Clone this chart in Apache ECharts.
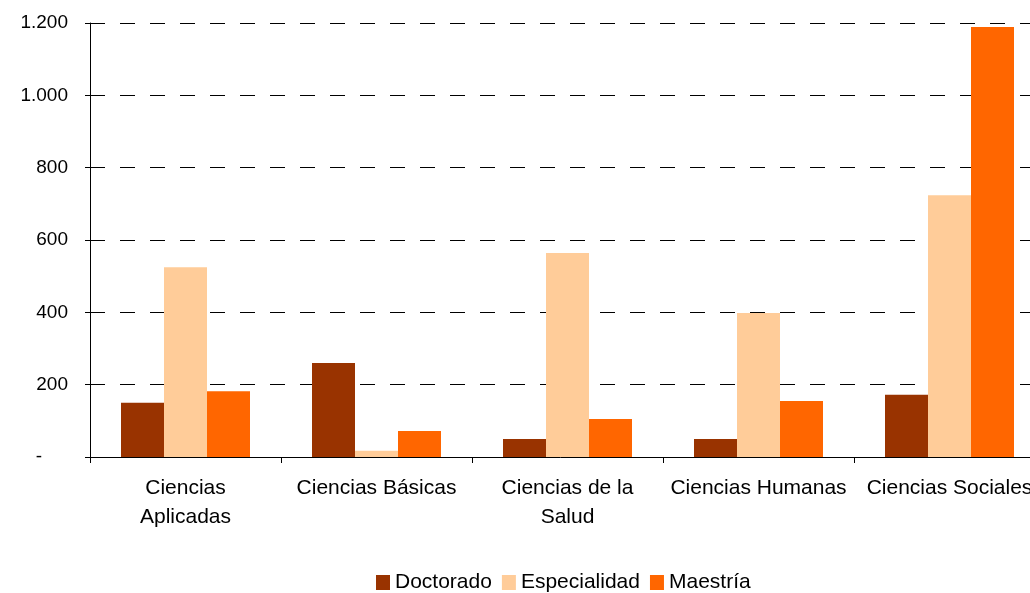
<!DOCTYPE html>
<html>
<head>
<meta charset="utf-8">
<script src="https://cdn.jsdelivr.net/npm/echarts@6/dist/echarts.min.js"></script>
<style>
  html, body { margin: 0; padding: 0; background: #fff; }
  #chart { width: 1030px; height: 593px; }
</style>
</head>
<body>
<div id="chart"></div>
<script>
// categorías y valores
const categories = ['Ciencias\nAplicadas', 'Ciencias Básicas', 'Ciencias de la\nSalud', 'Ciencias Humanas', 'Ciencias Sociales']
const doctorado = [150, 260, 50, 50, 172]
const especialidad = [525, 17, 564, 398, 724]
const maestria = [182, 72, 105, 155, 1189]
const seriesNames = ['Doctorado', 'Especialidad', 'Maestría']
const colors = ['#993300', '#FFCC99', '#FF6600']

const font = 'Liberation Sans, Arial, sans-serif'

// formato con punto de miles, cero como "-"
const formatY = (v) => {
  if (v === 0) return '{z|-}'
  return String(v).replace(/\B(?=(\d{3})+(?!\d))/g, '.')
}

const chart = echarts.init(document.getElementById('chart'))

const makeSeries = (name, data, color) => ({
  name,
  type: 'bar',
  data,
  barWidth: 43,
  barGap: '0%',
  itemStyle: { color },
  emphasis: { disabled: true }
})

chart.setOption({
  animation: false,
  grid: { left: 90, top: 23, width: 955, bottom: 136, outerBoundsMode: 'none' },
  legend: {
    left: 376,
    top: 572,
    padding: 0,
    itemWidth: 14,
    itemHeight: 15,
    itemGap: 10,
    icon: 'rect',
    textStyle: { color: '#000', fontSize: 21, fontFamily: font, padding: [0, 0, 0, 0] },
    data: seriesNames
  },
  xAxis: {
    type: 'category',
    data: categories,
    axisLine: { show: true, lineStyle: { color: '#000', width: 1 } },
    axisTick: { show: true, length: 6, lineStyle: { color: '#000' } },
    axisLabel: {
      color: '#000',
      fontSize: 21,
      fontFamily: font,
      margin: 17,
      lineHeight: 29,
      interval: 0
    }
  },
  yAxis: {
    type: 'value',
    min: 0,
    max: 1200,
    interval: 200,
    axisLine: { show: true, lineStyle: { color: '#000', width: 1 } },
    axisTick: { show: true, length: 5, lineStyle: { color: '#000' } },
    axisLabel: {
      color: '#000',
      fontSize: 19,
      fontFamily: font,
      margin: 22,
      formatter: formatY,
      rich: { z: { fontSize: 19, fontFamily: font, color: '#000', padding: [0, 26, 0, 0] } }
    },
    splitLine: {
      show: true,
      lineStyle: { color: '#000', width: 1, type: [15, 15] }
    }
  },
  series: [
    makeSeries(seriesNames[0], doctorado, colors[0]),
    makeSeries(seriesNames[1], especialidad, colors[1]),
    makeSeries(seriesNames[2], maestria, colors[2])
  ]
})
</script>
</body>
</html>
